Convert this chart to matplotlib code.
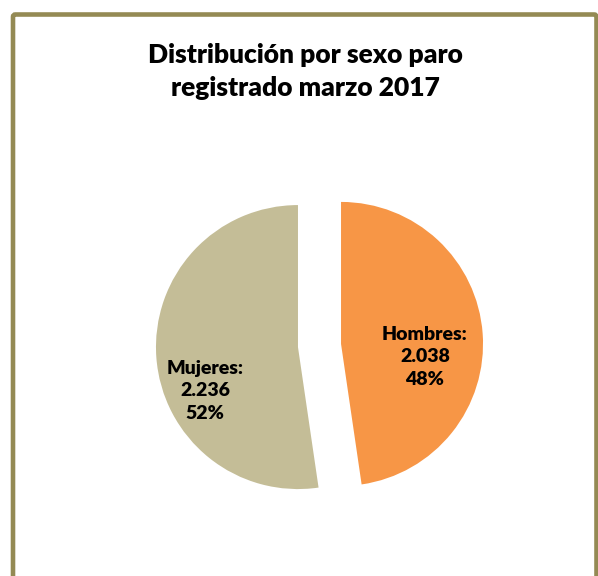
import matplotlib
matplotlib.use("Agg")
import matplotlib.pyplot as plt
from matplotlib.patches import FancyBboxPatch

# Data
categories = ["Hombres", "Mujeres"]
values = [2038, 2236]
value_labels = ["2.038", "2.236"]
pct_labels = ["48%", "52%"]
colors = ["#F79646", "#C4BD97"]
title_lines = ["Distribución por sexo paro", "registrado marzo 2017"]

W, H = 598, 576
fig = plt.figure(figsize=(W / 100, H / 100), dpi=100)
fig.patch.set_facecolor("white")

# border frame
frame = FancyBboxPatch((13 / W, -0.1), (596.5 - 13) / W, 1.1 - 14.5 / H,
                       boxstyle="round,pad=0,rounding_size=0.004",
                       transform=fig.transFigure, fill=False,
                       edgecolor="#948A54", linewidth=3.3, zorder=5)
fig.patches.append(frame)

# pie axes: 1 data unit = R pixels
R = 142.0
cx, cy = 319.5, H - 345.5
ax = fig.add_axes([0, 0, 1, 1])
ax.axis("off")

labels = [f"{c}:\n{v}\n{p}" for c, v, p in zip(categories, value_labels, pct_labels)]
wedges, texts = ax.pie(values, colors=colors, startangle=90, counterclock=False,
                       explode=[0.152, 0.152], radius=1.0, labels=labels,
                       labeldistance=0.6,
                       wedgeprops=dict(linewidth=0),
                       textprops=dict(fontsize=14, fontweight="heavy",
                                      family="Lato", color="black",
                                      ha="center", va="center", linespacing=1.4))
ax.set_xlim(-cx / R, (W - cx) / R)
ax.set_ylim(-cy / R, (H - cy) / R)
ax.set_aspect("equal")

label_pos = [(425, 357), (205, 391)]
for t, (px, py) in zip(texts, label_pos):
    t.set_position(((px - cx) / R, ((H - py) - cy) / R))
    t.set_horizontalalignment("center")
    t.set_verticalalignment("center")

for line, base in zip(title_lines, [63, 96]):
    fig.text(305 / W, 1 - base / H, line, ha="center", va="baseline",
             fontsize=19, fontweight="heavy", family="Lato")

fig.savefig("out.png", dpi=100, facecolor="white")
